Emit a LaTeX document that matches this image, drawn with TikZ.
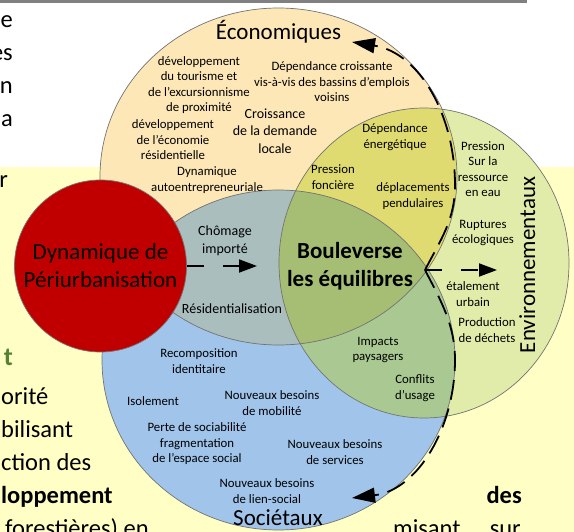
\documentclass[tikz,border=0pt]{standalone}
\usepackage{fontspec}
\setmainfont{Carlito}
\usetikzlibrary{arrows.meta,positioning}

\definecolor{slideYellow}{RGB}{255,255,197}
\definecolor{barGray}{RGB}{128,128,128}
\definecolor{ecoPeach}{RGB}{253,231,183}
\definecolor{socBlue}{RGB}{160,196,234}
\definecolor{envGreen}{RGB}{225,236,170}
\definecolor{ecoEnv}{RGB}{223,219,112}
\definecolor{ecoSoc}{RGB}{169,190,189}
\definecolor{socEnv}{RGB}{170,201,146}
\definecolor{allThree}{RGB}{166,189,116}
\definecolor{periRed}{RGB}{192,0,0}
\definecolor{textGreen}{RGB}{84,130,53}

\newcommand{\ecoRx}{178.5pt}
\newcommand{\ecoRy}{168.5pt}
\newcommand{\socRx}{176.5pt}
\newcommand{\socRy}{170pt}
\newcommand{\envRx}{145pt}
\newcommand{\envRy}{155pt}

\begin{document}
\begin{tikzpicture}[x=1pt, y=-1pt,
  zone/.style={draw=black!55, line width=0.7pt},
  tag/.style={align=center, inner sep=0pt, font=\fontsize{12.8}{15.5}\selectfont},
  bigtag/.style={align=center, inner sep=0pt, font=\fontsize{14}{17.5}\selectfont},
  head/.style={inner sep=0pt, font=\fontsize{23}{28}\selectfont},
  slide/.style={inner sep=0pt, font=\fontsize{24.5}{33}\selectfont},
  cycle arc/.style={line width=1.8pt, dash pattern=on 20pt off 9pt, -{Triangle[length=23pt,width=15pt]}},
  flow/.style={line width=1.8pt, dash pattern=on 17pt off 19pt, -{Triangle[length=18pt,width=13pt]}}]

\useasboundingbox (0,0) rectangle (574,532);

% Slide background
\fill[white] (0,0) rectangle (574,532);
\fill[slideYellow] (0,167) rectangle (574,532);
\fill[barGray] (0,0) rectangle (527,3);

% Slide text cut by the diagram
\foreach \w/\x/\y in {e/13/28, es/13/61, n/13/94, a/13/127, r/8/188} {
  \node[slide, anchor=base east] (left\y) at (\x,\y) {\w};
}
\node[slide, anchor=base east, text=textGreen, font=\fontsize{26}{33}\bfseries] (leftgreen) at (13,366) {t};
\foreach \w/\y in {orité/405, bilisant/437, ction des/470} {
  \node[slide, anchor=base west] (low\y) at (1,\y) {\w};
}
\node[slide, anchor=base west, font=\fontsize{24.5}{33}\bfseries] (low503) at (1,503) {loppement};
\node[slide, anchor=base west] (low536) at (5,536) {forestières) en};
\node[slide, anchor=base east, font=\fontsize{24.5}{33}\bfseries] (rightdes) at (522,503) {des};
\node[slide, anchor=base west] (rightmisant) at (393,536) {misant};
\node[slide, anchor=base east] (rightsur) at (521,536) {sur};

% Three overlapping ellipses
\coordinate (eco) at (278.5,176.5);
\coordinate (soc) at (278.5,360);
\coordinate (env) at (424,263);
\fill[ecoPeach] (eco) ellipse [x radius=\ecoRx, y radius=\ecoRy];
\fill[socBlue] (soc) ellipse [x radius=\socRx, y radius=\socRy];
\fill[envGreen] (env) ellipse [x radius=\envRx, y radius=\envRy];
\begin{scope}
  \clip (eco) ellipse [x radius=\ecoRx, y radius=\ecoRy];
  \fill[ecoSoc] (soc) ellipse [x radius=\socRx, y radius=\socRy];
  \fill[ecoEnv] (env) ellipse [x radius=\envRx, y radius=\envRy];
\end{scope}
\begin{scope}
  \clip (soc) ellipse [x radius=\socRx, y radius=\socRy];
  \fill[socEnv] (env) ellipse [x radius=\envRx, y radius=\envRy];
  \clip (eco) ellipse [x radius=\ecoRx, y radius=\ecoRy];
  \fill[allThree] (env) ellipse [x radius=\envRx, y radius=\envRy];
\end{scope}
\draw[zone] (eco) ellipse [x radius=\ecoRx, y radius=\ecoRy];
\draw[zone] (soc) ellipse [x radius=\socRx, y radius=\socRy];
\draw[zone] (env) ellipse [x radius=\envRx, y radius=\envRy];

% Source of the dynamic
\node[circle, fill=periRed, draw=black!55, line width=0.7pt, minimum size=172pt, inner sep=0pt,
  align=center, font=\fontsize{23}{28}\selectfont] (peri) at (100.5,266) {Dynamique de\\Périurbanisation};

% Economic side
\node[head, anchor=base] (ecoTitle) at (278.5,40) {Économiques};
\node[tag] (tourisme) at (199,85) {développement\\du tourisme et\\de l'excursionnisme\\de proximité};
\node[tag] (economie) at (173,140) {développement\\de l'économie\\résidentielle};
\node[tag] (autoentre) at (207,180) {Dynamique\\autoentrepreneuriale};
\node[bigtag] (demande) at (275,131) {Croissance\\de la demande\\locale};
\node[tag] (bassins) at (332,82) {Dépendance croissante\\vis-à-vis des bassins d'emplois\\voisins};

% Economic and environmental
\node[tag] (energie) at (395,137) {Dépendance\\énergétique};
\node[tag] (fonciere) at (333,177) {Pression\\foncière};
\node[tag] (pendulaires) at (413,196) {déplacements\\pendulaires};

% Environmental side
\node[tag] (eau) at (483,169) {Pression\\Sur la\\ressource\\en eau};
\node[tag] (ruptures) at (483,233) {Ruptures\\écologiques};
\node[tag] (etalement) at (473,294) {étalement\\urbain};
\node[tag] (dechets) at (487,330) {Production\\de déchets};
\node[head, anchor=base, rotate=90] (envTitle) at (535,265) {Environnementaux};

% Economic and societal
\node[bigtag] (chomage) at (225,241) {Chômage\\importé};
\node[bigtag] (residentiel) at (232,309) {Résidentialisation};

% Centre
\node[align=center, inner sep=0pt, font=\fontsize{23}{28}\bfseries] (bouleverse) at (350,266) {Bouleverse\\les équilibres};

% Societal and environmental
\node[tag] (paysagers) at (378,350) {Impacts\\paysagers};
\node[tag] (conflits) at (415,388) {Conflits\\d'usage};

% Societal side
\node[tag] (identitaire) at (199,361) {Recomposition\\identitaire};
\node[tag] (isolement) at (153,401) {Isolement};
\node[tag] (mobilite) at (272,403) {Nouveaux besoins\\de mobilité};
\node[tag] (sociabilite) at (197,444) {Perte de sociabilité\\fragmentation\\de l'espace social};
\node[tag] (services) at (335,452) {Nouveaux besoins\\de services};
\node[tag] (liensocial) at (267,491) {Nouveaux besoins\\de lien-social};
\node[head, anchor=base] (socTitle) at (278,525) {Sociétaux};

% Dashed cycle and arrows
\coordinate (junc) at (425,270);
\coordinate (ecoSide) at (455,185);
\coordinate (ecoTip) at (352,42);
\coordinate (socSide) at (455,360);
\coordinate (socTip) at (352,498);
\coordinate (chomTip) at (257,266);
\coordinate (envTip) at (497,270);
\draw[cycle arc] (junc) .. controls (441,239) and (455,220) .. (ecoSide)
  .. controls (455,116) and (420,53) .. (ecoTip);
\draw[cycle arc] (junc) .. controls (441,301) and (455,325) .. (socSide)
  .. controls (455,427) and (418,490) .. (socTip);
\draw[flow] (peri.east) -- (chomTip);
\draw[flow] (junc) -- (envTip);

\end{tikzpicture}
\end{document}
